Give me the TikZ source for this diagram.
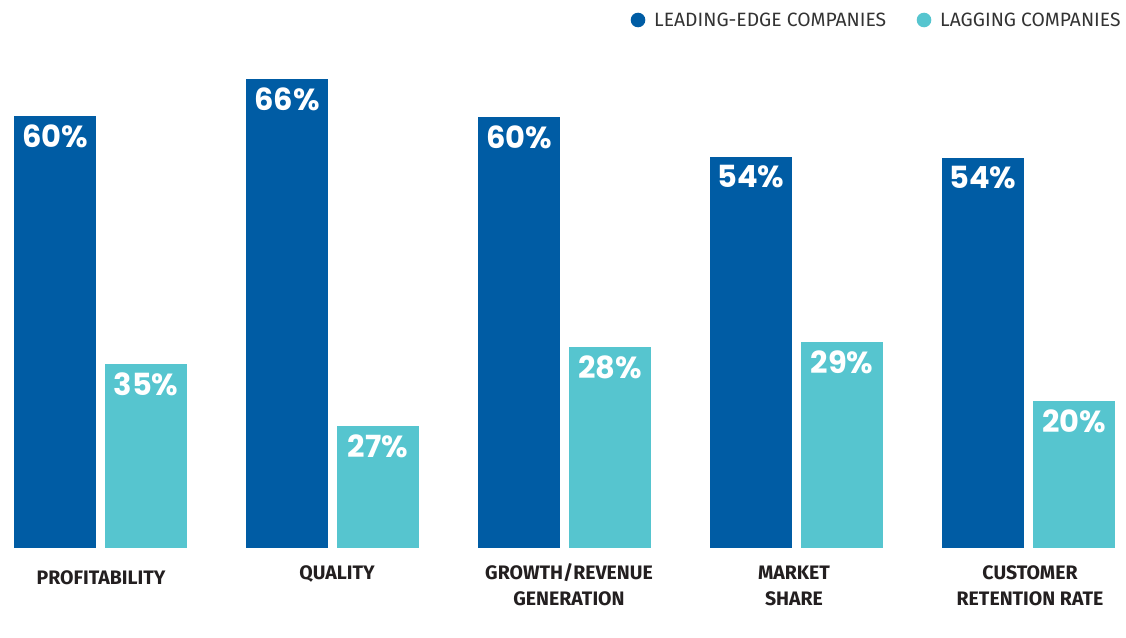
\documentclass[tikz,border=0pt]{standalone}
\usepackage{fontspec}
\setmainfont{Fira Sans}
\newfontfamily\pctfont{Poppins}
\definecolor{leadc}{HTML}{005CA4}
\definecolor{lagc}{HTML}{56C5CF}
\definecolor{labc}{HTML}{231F20}
\definecolor{legc}{HTML}{333333}
\begin{document}
\begin{tikzpicture}[x=1pt,y=-1pt,
  bar/.style={inner sep=0pt,outer sep=0pt,minimum width=82pt,anchor=south west},
  lead/.style={bar,fill=leadc},
  lag/.style={bar,fill=lagc},
  pct/.style={text=white,font=\pctfont\bfseries\fontsize{30.5}{30}\selectfont,inner sep=0pt},
  cat/.style={text=labc,font=\bfseries\fontsize{19.5}{26}\selectfont,align=center,anchor=base,inner sep=0pt},
  leg/.style={text=legc,font=\fontsize{19.3}{20}\selectfont,anchor=west,inner sep=0pt},
  dot/.style={circle,inner sep=0pt,minimum size=14.6pt}]
\useasboundingbox[fill=white] (0,0) rectangle (1126,637);
% legend
\node[dot,fill=leadc] (d1) at (638,20) {};
\node[leg] (l1) at (654,20) {LEADING-EDGE COMPANIES};
\node[dot,fill=lagc] (d2) at (924,20) {};
\node[leg] (l2) at (940,20) {LAGGING COMPANIES};
% bars
\node[lead,minimum height=432pt] (b1) at (14,548) {};
\node[lag,minimum height=184pt] (c1) at (105,548) {};
\node[lead,minimum height=469pt] (b2) at (246,548) {};
\node[lag,minimum height=122pt] (c2) at (337,548) {};
\node[lead,minimum height=431pt] (b3) at (478,548) {};
\node[lag,minimum height=201pt] (c3) at (569,548) {};
\node[lead,minimum height=391pt] (b4) at (710,548) {};
\node[lag,minimum height=206pt] (c4) at (801,548) {};
\node[lead,minimum height=390pt] (b5) at (942,548) {};
\node[lag,minimum height=147pt] (c5) at (1033,548) {};
% values
\foreach \n/\v in {b1/60,c1/35,b2/66,c2/27,b3/60,c3/28,b4/54,c4/29,b5/54,c5/20}
  \node[pct] (v\n) at ([yshift=-20pt]\n.north) {\v\%};
% categories
\node[cat] (k1) at (101,584) {PROFITABILITY};
\node[cat] (k2) at (337,579) {QUALITY};
\node[cat] (k3) at (569,605) {GROWTH/REVENUE\\GENERATION};
\node[cat] (k4) at (794,605) {MARKET\\SHARE};
\node[cat] (k5) at (1030,605) {CUSTOMER\\RETENTION RATE};
\end{tikzpicture}
\end{document}
